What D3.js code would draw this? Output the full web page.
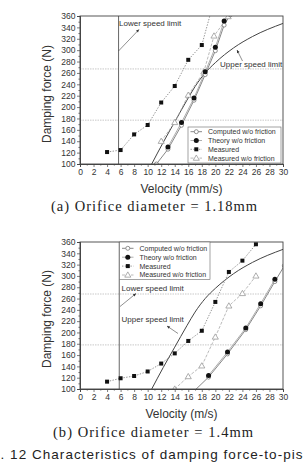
<!DOCTYPE html>
<html><head><meta charset="utf-8">
<script src="https://cdn.jsdelivr.net/npm/d3@7"></script>
<style>body{margin:0;background:#fff;}svg{display:block}</style>
</head><body>
<svg id="c" width="303" height="467"></svg>
<script>
// ---------- data ----------
const xTicks = [0,2,4,6,8,10,12,14,16,18,20,22,24,26,28,30];
const yTicks = [100,120,140,160,180,200,220,240,260,280,300,320,340,360];
const legendLabels = ["Computed w/o friction","Theory w/o friction","Measured","Measured w/o friction"];

// upper speed limit curve (same in both panels)
const upperV = [10.6,12.3,14,15.8,17,18.5,20,22.7,25.5,30];
const upperF = [100,138,174,212,236,260,278,304,324,347];

// panel (a) orifice 1.18mm
const aComputedV = [11.3,13,15,16.85,18.5,20,21.3,22.2];
const aComputedF = [100,126,168,212,257,299,344,362];
const aTheoryV = [13,15,16.85,18.5,20,21.3];
const aTheoryF = [130,173,216,262,305,351];
const aMeasuredV = [4,6,8,10,12,14,16,18,20];
const aMeasuredF = [121,124.5,152,168.5,208,237,283,309,395];
const aMeasNoFricV = [12,14,16,18.3,19.8,21.9];
const aMeasNoFricF = [140,173,221,262,325,359];
const aLowerLimitV = 5.7;
const aRefLinesF = [267,177];

// panel (b) orifice 1.4mm
const bComputedV = [17,19,21.8,24.5,26.7,28.8,30.2];
const bComputedF = [98,121,162,205,247,290,318];
const bTheoryV = [19,21.8,24.5,26.7,28.8];
const bTheoryF = [124,165.5,208,251,294];
const bMeasuredV = [4,6,8,10,12,14,16,18,20,22,24,26];
const bMeasuredF = [113,119,123,131,145,163,185,203,254,307,327,356];
const bMeasNoFricV = [14,16,18,20,22,24,26];
const bMeasNoFricF = [100,122,141,192,247,269,300];
const bLowerLimitV = 5.8;
const bRefLinesF = [268,178];

const zip = (v,f) => v.map((d,i)=>[d,f[i]]);
const svg = d3.select("#c");
const SANS = "'Liberation Sans', Arial, sans-serif";
const SERIF = "'Liberation Serif', 'DejaVu Serif', serif";

const styles = {
  computed: {stroke:"#7a7a7a", w:0.9, dash:null, marker:"ocircle"},
  theory:   {stroke:"#9a9a9a", w:0.8, dash:null, marker:"fcircle"},
  measured: {stroke:"#7a7a7a", w:0.8, dash:"1.4,1.4", marker:"square"},
  measNF:   {stroke:"#a8a8a8", w:0.8, dash:"3,1.5", marker:"otri"}
};

function drawMarker(g, type, x, y){
  if(type==="ocircle") g.append("circle").attr("cx",x).attr("cy",y).attr("r",2).attr("fill","#fff").attr("stroke","#777").attr("stroke-width",0.8);
  else if(type==="fcircle") g.append("circle").attr("cx",x).attr("cy",y).attr("r",2.5).attr("fill","#111");
  else if(type==="square") g.append("rect").attr("x",x-2).attr("y",y-2).attr("width",4).attr("height",4).attr("fill","#111");
  else if(type==="otri") g.append("path").attr("d",d3.symbol(d3.symbolTriangle,16)()).attr("transform",`translate(${x},${y+0.4})`).attr("fill","#fff").attr("stroke","#999").attr("stroke-width",0.8);
}

function arrow(g,x1,y1,x2,y2){
  g.append("line").attr("x1",x1).attr("y1",y1).attr("x2",x2).attr("y2",y2).attr("stroke","#444").attr("stroke-width",0.6);
  const a = Math.atan2(y2-y1,x2-x1), L=3.2, s=0.45;
  const p = [[x2,y2],[x2-L*Math.cos(a-s),y2-L*Math.sin(a-s)],[x2-L*Math.cos(a+s),y2-L*Math.sin(a+s)]];
  g.append("path").attr("d","M"+p.join("L")+"Z").attr("fill","#333");
}

function panel(cfg){
  const x = d3.scaleLinear().domain([0,30]).range([cfg.left,cfg.right]);
  const y = d3.scaleLinear().domain([100,360]).range([cfg.bottom,cfg.top]);
  const g = svg.append("g");
  const clipId = "clip"+cfg.id;
  svg.append("clipPath").attr("id",clipId).append("rect")
    .attr("x",cfg.left).attr("y",cfg.top).attr("width",cfg.right-cfg.left).attr("height",cfg.bottom-cfg.top);

  cfg.refF.forEach(f=>{
    g.append("line").attr("x1",cfg.left).attr("x2",cfg.right).attr("y1",y(f)).attr("y2",y(f))
      .attr("stroke","#bbb").attr("stroke-width",0.8).attr("stroke-dasharray","1.5,1");
  });
  g.append("line").attr("x1",x(cfg.lowerV)).attr("x2",x(cfg.lowerV)).attr("y1",cfg.top).attr("y2",cfg.bottom)
    .attr("stroke","#555").attr("stroke-width",0.9);

  const pg = g.append("g").attr("clip-path",`url(#${clipId})`);
  const line = d3.line().x(d=>x(d[0])).y(d=>y(d[1]));
  pg.append("path").datum(zip(upperV,upperF)).attr("d",d3.line().x(d=>x(d[0])).y(d=>y(d[1])).curve(d3.curveMonotoneX))
    .attr("fill","none").attr("stroke","#444").attr("stroke-width",1);

  const series = [
    ["measNF", zip(cfg.mnfV,cfg.mnfF)],
    ["measured", zip(cfg.mV,cfg.mF)],
    ["computed", zip(cfg.cV,cfg.cF)],
    ["theory", zip(cfg.tV,cfg.tF)]
  ];
  series.forEach(([k,data])=>{
    const s = styles[k];
    pg.append("path").datum(data).attr("d",line).attr("fill","none").attr("stroke",s.stroke)
      .attr("stroke-width",s.w).attr("stroke-dasharray",s.dash);
  });
  series.forEach(([k,data])=>{
    data.forEach(d=>{ if(d[1]>=100 && d[1]<=362) drawMarker(pg, styles[k].marker, x(d[0]), y(d[1])); });
  });

  g.append("rect").attr("x",cfg.left).attr("y",cfg.top).attr("width",cfg.right-cfg.left).attr("height",cfg.bottom-cfg.top)
    .attr("fill","none").attr("stroke","#444").attr("stroke-width",0.9);

  g.append("g").attr("transform",`translate(0,${cfg.bottom})`)
    .call(d3.axisBottom(x).tickValues(xTicks).tickSize(3).tickPadding(2).tickFormat(d3.format("d")));
  g.append("g").attr("transform",`translate(0,${cfg.bottom})`)
    .call(d3.axisBottom(x).tickValues(d3.range(1,30,2)).tickSize(1.6).tickFormat(""));
  g.append("g").attr("transform",`translate(${cfg.left},0)`)
    .call(d3.axisLeft(y).tickValues(yTicks).tickSize(3).tickPadding(1.5).tickFormat(d3.format("d")));
  g.append("g").attr("transform",`translate(${cfg.left},0)`)
    .call(d3.axisLeft(y).tickValues(d3.range(110,360,20)).tickSize(1.6).tickFormat(""));
  g.selectAll(".domain").attr("stroke","#444").attr("stroke-width",0.9);
  g.selectAll(".tick line").attr("stroke","#444").attr("stroke-width",0.7);
  g.selectAll(".tick text").attr("font-family",SANS).attr("font-size",8.5).attr("fill","#333");

  g.append("text").attr("x",181.5).attr("y",cfg.bottom+29).attr("text-anchor","middle")
    .attr("font-family",SANS).attr("font-size",12).attr("fill","#333").text(cfg.xTitle);
  g.append("text").attr("transform",`translate(51,${cfg.yTitleC}) rotate(-90)`).attr("text-anchor","middle")
    .attr("font-family",SANS).attr("font-size",12).attr("fill","#333").text("Damping force (N)");

  const ann = g.append("g");
  cfg.notes.forEach(n=>{
    ann.append("text").attr("x",n.tx).attr("y",n.ty).attr("font-family",SANS).attr("font-size",8)
      .attr("fill","#333").text(n.text);
    arrow(ann,n.a[0],n.a[1],n.a[2],n.a[3]);
  });

  const L = cfg.legend;
  const lg = g.append("g");
  lg.append("rect").attr("x",L.x).attr("y",L.y).attr("width",L.w).attr("height",L.h)
    .attr("fill","#fff").attr("stroke","#666").attr("stroke-width",0.6);
  ["computed","theory","measured","measNF"].forEach((k,i)=>{
    const yy = L.y0 + i*L.dy, s = styles[k];
    lg.append("line").attr("x1",L.x+2.5).attr("x2",L.x+14).attr("y1",yy).attr("y2",yy)
      .attr("stroke",s.stroke).attr("stroke-width",s.w).attr("stroke-dasharray",s.dash);
    drawMarker(lg,s.marker,L.x+8.3,yy);
    lg.append("text").attr("x",L.x+20).attr("y",yy+2.4).attr("font-family",SANS).attr("font-size",7)
      .attr("fill","#333").text(legendLabels[i]);
  });

  svg.append("text").attr("x",cfg.capX).attr("y",cfg.capY).attr("font-family",SERIF).attr("font-size",14.5)
    .attr("fill","#222").attr("textLength",cfg.capW).attr("lengthAdjust","spacing").text(cfg.caption);
}

panel({
  id:"a", left:80, right:283, top:16, bottom:164,
  cV:aComputedV,cF:aComputedF,tV:aTheoryV,tF:aTheoryF,mV:aMeasuredV,mF:aMeasuredF,mnfV:aMeasNoFricV,mnfF:aMeasNoFricF,
  lowerV:aLowerLimitV, refF:aRefLinesF, xTitle:"Velocity (mm/s)", yTitleC:94,
  notes:[{text:"Lower speed limit",tx:119,ty:26,a:[118.5,51,139,29.5]},
         {text:"Upper speed limit",tx:220,ty:67,a:[242.5,61,237,50]}],
  legend:{x:188,y:127,w:93,h:36,y0:131.7,dy:8.8},
  caption:"(a) Orifice diameter = 1.18mm", capX:51, capY:211, capW:206
});
panel({
  id:"b", left:80, right:283, top:242, bottom:389,
  cV:bComputedV,cF:bComputedF,tV:bTheoryV,tF:bTheoryF,mV:bMeasuredV,mF:bMeasuredF,mnfV:bMeasNoFricV,mnfF:bMeasNoFricF,
  lowerV:bLowerLimitV, refF:bRefLinesF, xTitle:"Velocity (m/s)", yTitleC:319,
  notes:[{text:"Lower speed limit",tx:121.5,ty:290.5,a:[120,306.5,136,293.5]},
         {text:"Upper speed limit",tx:121.5,ty:321.5,a:[178,333.5,167,326]}],
  legend:{x:119.5,y:242,w:90.5,h:37.5,y0:248.3,dy:8.9},
  caption:"(b) Orifice diameter = 1.4mm", capX:53, capY:436.5, capW:200
});

// figure caption (as seen in the reference, cut at page edges)
svg.append("text").attr("x",0.5).attr("y",458.5).attr("font-family",SANS).attr("font-size",13.5)
  .attr("fill","#222").attr("textLength",302).attr("lengthAdjust","spacing")
  .text(". 12 Characteristics of damping force-to-pis");
</script>
</body></html>
